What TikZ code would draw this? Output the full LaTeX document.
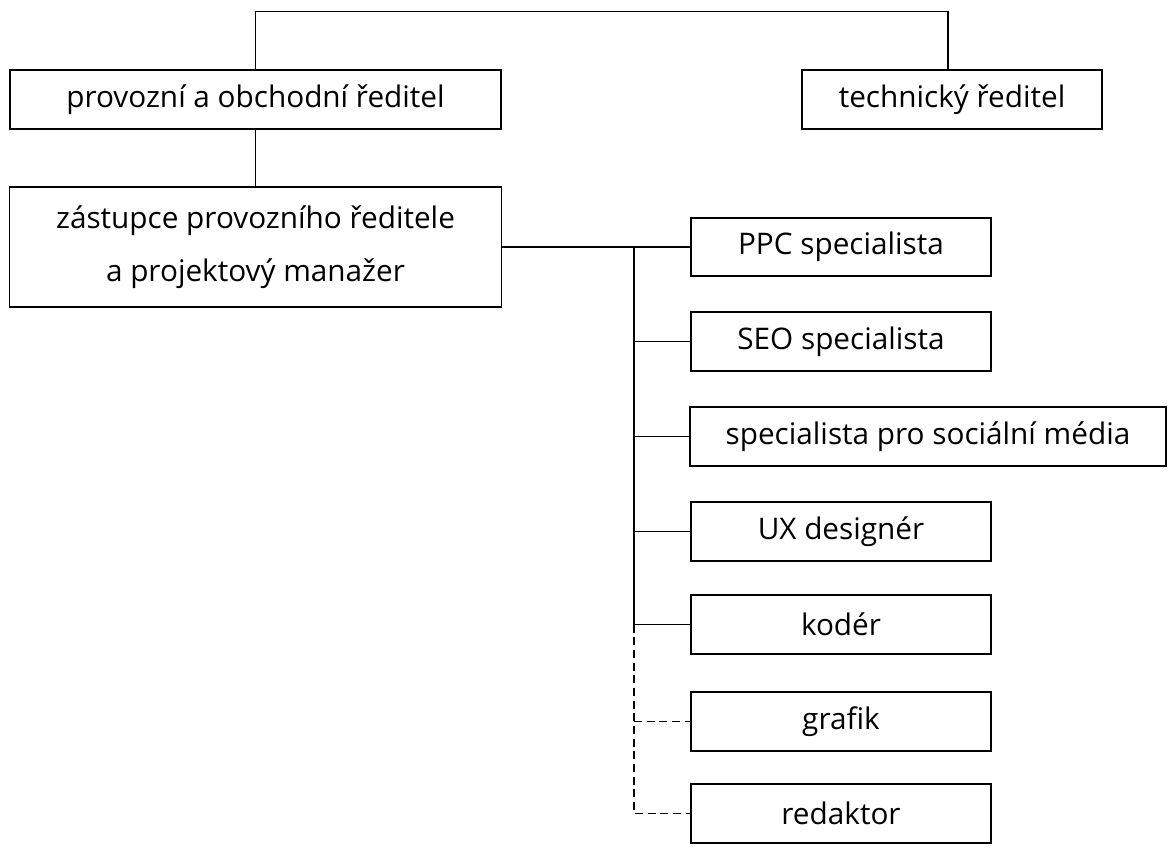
\documentclass[tikz,border=0pt]{standalone}
\usepackage{fontspec}
\setmainfont{Open Sans}
\usepackage{tikz}
\usetikzlibrary{positioning}

\begin{document}
\begin{tikzpicture}[x=0.75pt, y=-0.75pt,
		box/.style={
			draw,
			rectangle,
			line width=1.3pt,
			inner sep=0pt,
			align=center,
			minimum width=225pt,
			minimum height=44pt,
			font=\fontsize{22.3}{40}\selectfont
		}, link/.style={line width=0.9pt}]
		\useasboundingbox (0,0) rectangle (1169,848);
		
		\node[box, minimum width=368pt] (rpo) at (255.5, 99.5) {provozní a obchodní ředitel};
		\node[box] (rt) at (952, 99.5) {technický ředitel};
		\node[box, minimum width=369pt, minimum height=90pt] (zast) at (255.5, 247) {zástupce provozního ředitele\\a projektový manažer};
		
		\node[box] (ppc) at (841, 247) {PPC specialista};
		\node[box] (seo) at (841, 341.5) {SEO specialista};
		\node[box, minimum width=357pt] (soc) at (928, 436.5) {specialista pro sociální média};
		\node[box] (ux) at (841, 531.5) {UX designér};
		\node[box] (koder) at (841, 624.5) {kodér};
		\node[box] (grafik) at (841, 721.5) {grafik};
		\node[box] (redaktor) at (841, 813.5) {redaktor};
		
		\draw[link] (rpo.north) --++(0, -58) -| ([xshift=-3pt]rt.north);
		\draw[link] (rpo.south) -- (zast.north);
		\draw[link] (zast.east) -- (ppc.west);
		
		\coordinate (br) at (634, 247);	% branch point
		\draw[link] (br) -- (br |- koder.west);
		\draw[link] (br |- seo.west) -- (seo.west);
		\draw[link] (br |- soc.west) -- (soc.west);
		\draw[link] (br |- ux.west) -- (ux.west);
		\draw[link] (br |- koder.west) -- (koder.west);
		
		\draw[link, dash pattern=on 6pt off 3.5pt] (br |- koder.west) |- (redaktor.west);
		\draw[link, dash pattern=on 6pt off 3.5pt] (br |- grafik.west) -- (grafik.west);
	\end{tikzpicture}
\end{document}
